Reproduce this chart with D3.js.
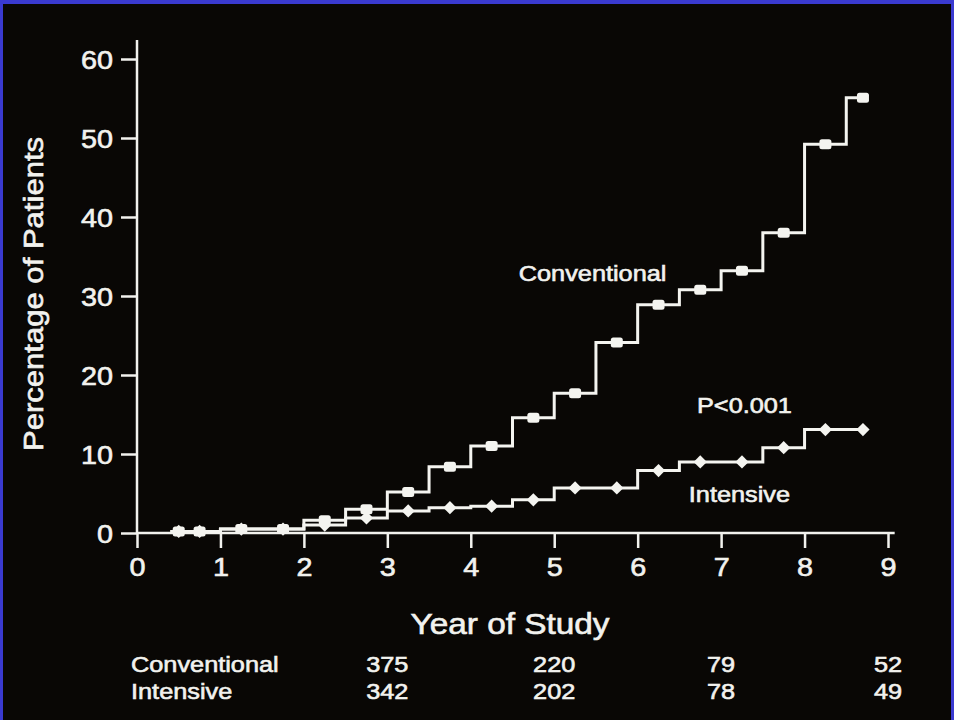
<!DOCTYPE html>
<html lang="en">
<head>
  <meta charset="UTF-8">
  <title>Year of Study</title>
  <style>
    body { margin: 0; background: #3a3ad0; }
    svg { display: block; }
    text { font-family: "Liberation Sans", Arial, sans-serif; fill: #f2f2ee; stroke: #f2f2ee; stroke-width: 0.6px; }
  </style>
</head>
<body>
  <svg width="954" height="720"></svg>
  <script src="https://d3js.org/d3.v7.min.js"></script>
  <script>
    // step starts (years) and cumulative percentage from that point on
    var stepYears = [0.4, 1.0, 2.0, 2.5, 3.0, 3.5, 4.0, 4.5, 5.0, 5.5, 6.0, 6.5, 7.0, 7.5, 8.0, 8.5];
    var conventional = [0.2, 0.5, 1.6, 3.0, 5.2, 8.4, 11.0, 14.6, 17.7, 24.1, 28.9, 30.8, 33.2, 38.0, 49.2, 55.1];
    var intensive = [0.2, 0.5, 1.0, 1.9, 2.8, 3.2, 3.4, 4.2, 5.7, 5.7, 7.9, 9.0, 9.0, 10.8, 13.1, 13.1];
    var endYear = 8.7;
    var markerYears = [0.5, 0.75, 1.25, 1.75, 2.25, 2.75, 3.25, 3.75, 4.25, 4.75, 5.25, 5.75, 6.25, 6.75, 7.25, 7.75, 8.25, 8.7];

    var yTicks = [0, 10, 20, 30, 40, 50, 60];
    var xTicks = [0, 1, 2, 3, 4, 5, 6, 7, 8, 9];

    // patients at risk
    var riskYears = [3, 5, 7, 9];
    var riskConventional = [375, 220, 79, 52];
    var riskIntensive = [342, 202, 78, 49];

    var svg = d3.select("svg");
    var stretch = 1.15;

    svg.append("rect")
      .attr("x", 3).attr("y", 4)
      .attr("width", 948).attr("height", 716)
      .attr("fill", "#090705");

    var x = d3.scaleLinear().domain([0, 9]).range([137, 888]),
        y = d3.scaleLinear().domain([0, 60]).range([533, 59]);

    function valueAt(vals, t) {
      var i = d3.bisectRight(stepYears, t) - 1;
      return vals[Math.max(0, i)];
    }

    function steps(vals) {
      var pts = stepYears.map(function(t, i) { return {t: t, v: vals[i]}; });
      pts.push({t: endYear, v: vals[vals.length - 1]});
      return pts;
    }

    var line = d3.line()
      .curve(d3.curveStepAfter)
      .x(function(d) { return x(d.t); })
      .y(function(d) { return y(d.v); });

    // axes
    var yAxis = d3.axisLeft(y).tickValues(yTicks).tickSize(16).tickPadding(8);
    var xAxis = d3.axisBottom(x).tickValues(xTicks).tickSize(15).tickPadding(10);

    var gy = svg.append("g").attr("transform", "translate(" + x(0) + ",0)").call(yAxis);
    var gx = svg.append("g").attr("transform", "translate(0," + y(0) + ")").call(xAxis);
    [gx, gy].forEach(function(g) {
      g.select(".domain").remove();
      g.selectAll("line").attr("stroke", "#f2f2ee").attr("stroke-width", 2.5);
      g.selectAll("text").attr("fill", "#f2f2ee").style("font-size", "25px");
    });
    gy.selectAll("text").attr("dy", "0.36em");
    gx.selectAll("text").attr("dy", "0.72em");

    svg.append("line")
      .attr("x1", x(0)).attr("x2", x(0))
      .attr("y1", y(0) + 1).attr("y2", y(62.4))
      .attr("stroke", "#f2f2ee").attr("stroke-width", 2.5);
    svg.append("line")
      .attr("x1", x(0)).attr("x2", x(9.08))
      .attr("y1", y(0)).attr("y2", y(0))
      .attr("stroke", "#f2f2ee").attr("stroke-width", 2.5);

    // curves
    [intensive, conventional].forEach(function(vals) {
      svg.append("path")
        .attr("d", line(steps(vals)))
        .attr("fill", "none")
        .attr("stroke", "#f4f4f0")
        .attr("stroke-width", 3);
    });

    svg.selectAll(".sq")
      .data(markerYears)
      .enter().append("rect")
      .attr("class", "sq")
      .attr("x", function(d) { return x(d) - 6; })
      .attr("y", function(d) { return y(valueAt(conventional, d)) - 5; })
      .attr("width", 12).attr("height", 10).attr("rx", 2.5)
      .attr("fill", "#f4f4f0");

    svg.selectAll(".dm")
      .data(markerYears)
      .enter().append("path")
      .attr("class", "dm")
      .attr("d", d3.symbol(d3.symbolSquare, 88))
      .attr("transform", function(d) {
        return "translate(" + x(d) + "," + y(valueAt(intensive, d)) + ") rotate(45)";
      })
      .attr("fill", "#f4f4f0");

    // labels
    var labelText = ["Conventional", "P<0.001", "Intensive"],
        labelYear = [5.46, 7.28, 7.22],
        labelValue = [31.9, 15.2, 3.95];
    labelText.forEach(function(s, i) {
      svg.append("text")
        .attr("x", x(labelYear[i])).attr("y", y(labelValue[i]))
        .attr("text-anchor", "middle")
        .style("font-size", "22px")
        .text(s);
    });

    svg.append("text")
      .attr("transform", "translate(43,294) rotate(-90)")
      .attr("text-anchor", "middle")
      .style("font-size", "27px")
      .text("Percentage of Patients");

    svg.append("text")
      .attr("x", 510).attr("y", 634)
      .attr("text-anchor", "middle")
      .style("font-size", "29px")
      .text("Year of Study");

    // at-risk table
    [["Conventional", riskConventional, 672], ["Intensive", riskIntensive, 699]].forEach(function(row) {
      svg.append("text")
        .attr("x", 131).attr("y", row[2])
        .style("font-size", "22px")
        .text(row[0]);
      row[1].forEach(function(n, i) {
        svg.append("text")
          .attr("x", x(riskYears[i])).attr("y", row[2])
          .attr("text-anchor", "middle")
          .style("font-size", "22px")
          .text(n);
      });
    });

    // the original lettering is a bit wider than Liberation Sans
    svg.selectAll("text").each(function() {
      var w = this.getComputedTextLength();
      d3.select(this).attr("textLength", w * stretch).attr("lengthAdjust", "spacingAndGlyphs");
    });
  </script>
</body>
</html>
